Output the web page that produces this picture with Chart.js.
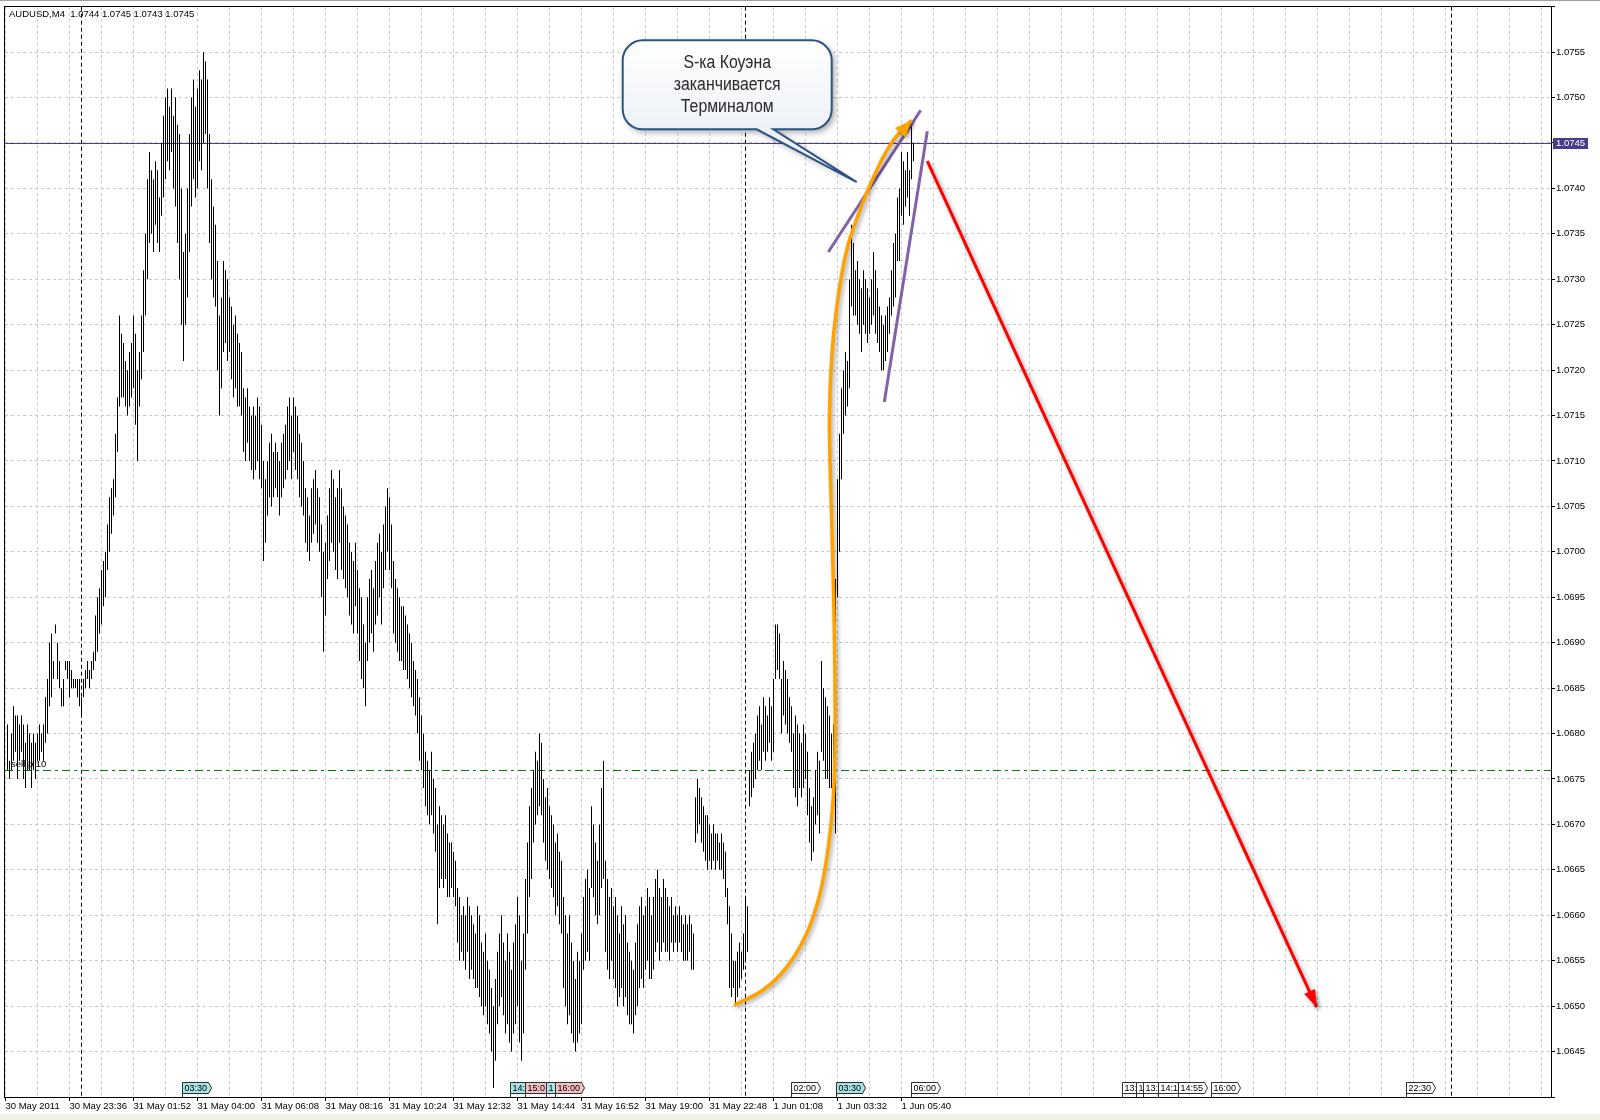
<!DOCTYPE html>
<html lang="ru">
<head>
<meta charset="utf-8">
<title>AUDUSD,M4</title>
<script src="https://cdn.jsdelivr.net/npm/chart.js@4.4.1/dist/chart.umd.min.js"></script>
<style>
  html, body { margin: 0; padding: 0; background: #ffffff; }
  canvas { display: block; }
</style>
</head>
<body>
<canvas id="audusdChart" width="1600" height="1120"></canvas>
<script>
const BASE_PRICE = 1.06;
const PIP = 0.0001;

// M4 bars, high / low in pips above 1.0600 (one value per bar)
const barHighs = [
    81, 77, 80, 83, 82, 82, 81, 82, 81, 79,
    81, 80, 79, 80, 79, 80, 81, 80, 81, 84,
    86, 90, 91, 88, 92, 90, 88, 85, 86, 88,
    88, 88, 87, 86, 86, 86, 86, 84, 86, 87,
    88, 87, 88, 89, 93, 95, 96, 98, 99, 100,
    103, 106, 107, 108, 113, 117, 126, 124, 123, 121,
    120, 122, 123, 126, 124, 120, 122, 126, 131, 135,
    141, 144, 142, 141, 143, 142, 139, 145, 148, 150,
    151, 149, 151, 148, 150, 147, 146, 140, 133, 135,
    140, 146, 150, 152, 149, 151, 153, 152, 155, 154,
    152, 146, 141, 138, 136, 132, 126, 128, 132, 131,
    130, 128, 127, 125, 126, 124, 123, 122, 118, 117,
    118, 116, 115, 116, 115, 117, 116, 114, 110, 108,
    110, 112, 113, 111, 112, 111, 110, 112, 113, 114,
    116, 117, 115, 117, 116, 115, 113, 112, 110, 107,
    106, 104, 107, 108, 109, 107, 106, 103, 100, 101,
    104, 107, 109, 108, 106, 107, 109, 107, 105, 104,
    103, 101, 100, 99, 101, 98, 96, 95, 92, 90,
    95, 97, 98, 96, 99, 101, 102, 100, 103, 105,
    107, 106, 103, 99, 97, 96, 95, 94, 94, 93,
    92, 91, 90, 88, 87, 86, 84, 82, 80, 78,
    77, 76, 78, 75, 74, 70, 72, 71, 70, 71,
    69, 68, 68, 67, 66, 63, 62, 60, 61, 60,
    62, 61, 60, 59, 58, 61, 60, 57, 56, 58,
    55, 54, 52, 50, 53, 56, 58, 60, 57, 55,
    58, 56, 54, 57, 59, 62, 60, 55, 58, 64,
    68, 72, 74, 76, 78, 77, 80, 79, 75, 73,
    74, 72, 71, 70, 68, 69, 67, 66, 62, 60,
    58, 60, 57, 55, 53, 56, 55, 58, 62, 64,
    65, 63, 72, 70, 68, 66, 70, 74, 77, 66,
    64, 62, 63, 61, 62, 60, 58, 61, 59, 60,
    57, 56, 55, 54, 57, 59, 61, 62, 60, 61,
    63, 62, 60, 62, 64, 65, 63, 62, 64, 63,
    62, 61, 62, 60, 61, 60, 61, 60, 59, 60,
    59, 60, 59, 58, 73, 75, 74, 73, 72, 71,
    71, 70, 69, 70, 69, 69, 68, 69, 68, 67,
    63, 61, 58, 55, 55, 56, 57, 56, 58, 62,
    61, 76, 78, 79, 80, 82, 83, 81, 84, 83,
    82, 84, 83, 86, 92, 92, 91, 86, 88, 87,
    86, 84, 83, 80, 82, 81, 80, 79, 81, 80,
    78, 74, 72, 73, 76, 78, 77, 88, 85, 84,
    83, 82, 80, 81, 97, 108, 113, 118, 120, 122,
    121, 130, 136, 134, 131, 132, 130, 129, 131, 130,
    129, 128, 130, 133, 131, 129, 127, 126, 125, 126,
    127, 128, 131, 134, 135, 139, 140, 144, 143, 142,
    144, 142, 147, 145
];
const barLows = [
    76, 75, 76, 77, 78, 75, 77, 78, 75, 74,
    76, 76, 74, 76, 75, 77, 77, 78, 77, 79,
    80, 83, 84, 86, 91, 86, 85, 83, 83, 87,
    86, 84, 85, 85, 85, 84, 83, 82, 84, 85,
    86, 85, 86, 87, 88, 89, 91, 92, 94, 95,
    98, 100, 102, 104, 106, 111, 116, 117, 117, 116,
    115, 116, 117, 118, 114, 110, 116, 119, 122, 126,
    130, 134, 135, 133, 136, 134, 133, 137, 139, 141,
    143, 142, 144, 140, 138, 134, 130, 125, 121, 125,
    128, 133, 138, 141, 139, 140, 143, 142, 145, 146,
    140, 134, 130, 128, 127, 120, 115, 118, 122, 123,
    121, 122, 119, 117, 118, 116, 116, 115, 111, 110,
    112, 110, 109, 108, 109, 110, 108, 107, 99, 101,
    104, 106, 105, 106, 107, 106, 104, 106, 107, 108,
    109, 110, 108, 111, 109, 108, 106, 105, 104, 101,
    100, 99, 101, 102, 103, 101, 100, 95, 89, 93,
    97, 99, 101, 100, 98, 97, 101, 98, 97, 96,
    95, 93, 92, 91, 94, 91, 88, 86, 85, 83,
    88, 90, 91, 89, 92, 93, 95, 92, 96, 98,
    100, 98, 96, 91, 90, 89, 88, 88, 87, 87,
    86, 85, 84, 83, 82, 80, 77, 76, 74, 72,
    71, 70, 71, 69, 67, 59, 63, 64, 63, 64,
    62, 62, 63, 62, 61, 57, 55, 56, 55, 54,
    56, 53, 54, 53, 52, 52, 51, 50, 49, 50,
    48, 47, 45, 41, 44, 48, 50, 51, 49, 47,
    48, 46, 45, 47, 48, 50, 46, 44, 47, 54,
    58, 62, 64, 68, 70, 71, 72, 71, 68, 66,
    65, 64, 63, 62, 60, 61, 59, 58, 52, 50,
    48, 49, 47, 46, 45, 46, 47, 48, 54, 55,
    56, 55, 63, 62, 60, 59, 60, 63, 64, 56,
    54, 53, 55, 53, 52, 50, 51, 52, 50, 51,
    49, 48, 48, 47, 49, 50, 52, 53, 52, 54,
    55, 53, 53, 54, 56, 57, 55, 56, 57, 56,
    56, 55, 57, 56, 57, 56, 57, 56, 55, 55,
    55, 56, 54, 54, 68, 69, 70, 68, 67, 66,
    65, 66, 65, 66, 65, 66, 65, 65, 64, 62,
    59, 52, 51, 52, 50, 51, 52, 53, 54, 55,
    56, 72, 73, 74, 75, 76, 77, 76, 78, 77,
    78, 79, 77, 78, 86, 87, 86, 80, 82, 81,
    80, 79, 78, 74, 73, 72, 74, 73, 74, 75,
    71, 68, 66, 67, 70, 71, 69, 78, 77, 75,
    75, 74, 74, 75, 69, 95, 100, 108, 113, 115,
    116, 118, 127, 126, 126, 125, 124, 122, 125, 124,
    123, 124, 125, 126, 124, 123, 122, 120, 120, 121,
    122, 124, 126, 127, 128, 132, 132, 137, 136, 138,
    139, 137, 141, 143
];

const timeLabels = ['30 May 2011', '30 May 23:36', '31 May 01:52', '31 May 04:00', '31 May 06:08',
    '31 May 08:16', '31 May 10:24', '31 May 12:32', '31 May 14:44', '31 May 16:52',
    '31 May 19:00', '31 May 22:48', '1 Jun 01:08', '1 Jun 03:32', '1 Jun 05:40'];
const priceTicks = [1.0640, 1.0645, 1.0650, 1.0655, 1.0660, 1.0665, 1.0670, 1.0675, 1.0680,
    1.0685, 1.0690, 1.0695, 1.0700, 1.0705, 1.0710, 1.0715, 1.0720, 1.0725, 1.0730,
    1.0735, 1.0740, 1.0745, 1.0750, 1.0755, 1.0760];

const headerText = 'AUDUSD,M4  1.0744 1.0745 1.0743 1.0745';
const currentPrice = 1.0745;
const orderPrice = 1.0676;
const orderText = 'sell p 10';
const daySeparatorBars = [36.5, 368.5, 721.5];

// calendar event flags on the time axis (bar position, text, colour kind)
const eventBars = [87, 251, 258.5, 269, 273.5, 391.5, 414, 451.5, 557, 564, 567.5, 575, 585, 601.5, 699];
const eventTexts = ['03:30', '14:', '15:0', '1', '16:00', '02:00', '03:30', '06:00', '13:1', '1', '13:', '14:1', '14:55', '16:00', '22:30'];
const eventKinds = ['cyan', 'cyan', 'pink', 'cyan', 'pink', 'white', 'cyan', 'white', 'white', 'white', 'white', 'white', 'white', 'white', 'white'];

// drawn objects, in bar index / price units
const sCurveBars = [363.25, 377.9, 389.6, 399.6, 406.25, 410.4, 412.9, 413.75, 413.75, 412.9,
    411.8, 411.0, 412.1, 414.6, 419.6, 426.25, 434.6, 442.9, 452.1];
const sCurvePrices = [1.06501, 1.06518, 1.06543, 1.06580, 1.06624, 1.06675, 1.06730, 1.06785, 1.06859, 1.06969,
    1.07057, 1.07145, 1.07214, 1.07269, 1.07332, 1.07376, 1.07420, 1.07453, 1.07475];
const wedgeUpperBars = [410.4, 456.6];
const wedgeUpperPrices = [1.07330, 1.07486];
const wedgeLowerBars = [438.4, 459.9];
const wedgeLowerPrices = [1.07165, 1.07463];
const targetBars = [459.9, 654.6];
const targetPrices = [1.07430, 1.06499];

const calloutLines = ['S-ка Коуэна', 'заканчивается', 'Терминалом'];
const calloutBars = [307.6, 412.1];        // left, right
const calloutPrices = [1.07563, 1.07465];  // top, bottom
const calloutTailBars = [374.6, 382.9, 424.6];
const calloutTipPrice = 1.07407;

const UI_FONT = '"Liberation Sans", Arial, sans-serif';

function arrowHead(ctx, from, to, len, half) {
    const a = Math.atan2(to.y - from.y, to.x - from.x);
    const bx = to.x - len * Math.cos(a);
    const by = to.y - len * Math.sin(a);
    ctx.beginPath();
    ctx.moveTo(to.x, to.y);
    ctx.lineTo(bx + half * Math.sin(a), by - half * Math.cos(a));
    ctx.lineTo(bx - half * Math.sin(a), by + half * Math.cos(a));
    ctx.closePath();
    ctx.fill();
}

function setShadow(ctx, blur, off) {
    ctx.shadowColor = 'rgba(0, 0, 0, 0.35)';
    ctx.shadowBlur = blur;
    ctx.shadowOffsetX = off;
    ctx.shadowOffsetY = off;
}

const mt4Decor = {
    id: 'mt4Decor',
    beforeDraw(chart) {
        const { ctx, width, height } = chart;
        ctx.save();
        ctx.fillStyle = '#ffffff';
        ctx.fillRect(0, 0, width, height);
        ctx.fillStyle = '#f1f1e6';
        ctx.fillRect(0, 1114, width, height - 1114);
        ctx.fillStyle = '#a0a0a0';
        ctx.fillRect(0, 0, width, 1);
        ctx.restore();
    },
    beforeDatasetsDraw(chart) {
        const { ctx, chartArea: a, scales: { x, y } } = chart;
        ctx.save();
        // day separators
        ctx.strokeStyle = '#000';
        ctx.lineWidth = 1;
        ctx.setLineDash([4, 3]);
        daySeparatorBars.forEach((b) => {
            const px = Math.round(x.getPixelForValue(b)) + 0.5;
            ctx.beginPath();
            ctx.moveTo(px, a.top);
            ctx.lineTo(px, a.bottom);
            ctx.stroke();
        });
        // pending order line
        const oy = Math.round(y.getPixelForValue(orderPrice)) + 0.5;
        ctx.strokeStyle = '#008000';
        ctx.setLineDash([8, 4, 3, 4]);
        ctx.beginPath();
        ctx.moveTo(a.left, oy);
        ctx.lineTo(a.right, oy);
        ctx.stroke();
        ctx.setLineDash([]);
        ctx.fillStyle = '#000';
        ctx.font = '9.5px ' + UI_FONT;
        ctx.textBaseline = 'bottom';
        ctx.fillText(orderText, a.left + 6, oy - 1);
        // current price line
        const py = Math.round(y.getPixelForValue(currentPrice)) + 0.5;
        ctx.strokeStyle = '#483d8b';
        ctx.beginPath();
        ctx.moveTo(a.left, py);
        ctx.lineTo(a.right, py);
        ctx.stroke();
        ctx.restore();
    },
    beforeDatasetDraw(chart, args) {
        const ds = chart.data.datasets[args.index];
        if (ds.dropShadow) {
            chart.ctx.save();
            setShadow(chart.ctx, 4, 2);
        }
    },
    afterDatasetDraw(chart, args) {
        if (chart.data.datasets[args.index].dropShadow) chart.ctx.restore();
    },
    afterDatasetsDraw(chart) {
        const { ctx, chartArea: a, scales: { x, y } } = chart;

        // arrow heads
        ctx.save();
        setShadow(ctx, 4, 2);
        const sPts = chart.getDatasetMeta(0).data;
        ctx.fillStyle = '#ffa200';
        arrowHead(ctx, sPts[sPts.length - 2], sPts[sPts.length - 1], 17, 7);
        const tPts = chart.getDatasetMeta(3).data;
        ctx.fillStyle = '#ff0000';
        arrowHead(ctx, tPts[0], tPts[1], 17, 6);
        ctx.restore();

        // event flags
        ctx.save();
        ctx.font = '9px ' + UI_FONT;
        ctx.textBaseline = 'middle';
        ctx.lineWidth = 1;
        const fills = { cyan: '#a6e3e3', pink: '#f6bcc4', white: '#ffffff' };
        eventBars.forEach((b, i) => {
            const px = Math.round(x.getPixelForValue(b)) + 0.5;
            const w = Math.ceil(ctx.measureText(eventTexts[i]).width) + 3;
            const top = a.bottom - 14.5;
            const h = 11;
            ctx.beginPath();
            ctx.moveTo(px, top);
            ctx.lineTo(px + w, top);
            ctx.lineTo(px + w + 3, top + h / 2);
            ctx.lineTo(px + w, top + h);
            ctx.lineTo(px, top + h);
            ctx.closePath();
            ctx.fillStyle = fills[eventKinds[i]];
            ctx.fill();
            ctx.strokeStyle = '#303030';
            ctx.stroke();
            ctx.beginPath();
            ctx.moveTo(px, top + h);
            ctx.lineTo(px, a.bottom);
            ctx.stroke();
            ctx.fillStyle = '#000';
            ctx.fillText(eventTexts[i], px + 2, top + h / 2 + 0.5);
        });
        ctx.restore();

        // callout bubble
        const x1 = x.getPixelForValue(calloutBars[0]);
        const x2 = x.getPixelForValue(calloutBars[1]);
        const y1 = y.getPixelForValue(calloutPrices[0]);
        const y2 = y.getPixelForValue(calloutPrices[1]);
        const t1 = x.getPixelForValue(calloutTailBars[0]);
        const t2 = x.getPixelForValue(calloutTailBars[1]);
        const tx = x.getPixelForValue(calloutTailBars[2]);
        const ty = y.getPixelForValue(calloutTipPrice);
        const r = 20;
        ctx.save();
        ctx.beginPath();
        ctx.moveTo(x1 + r, y1);
        ctx.lineTo(x2 - r, y1);
        ctx.arcTo(x2, y1, x2, y1 + r, r);
        ctx.lineTo(x2, y2 - r);
        ctx.arcTo(x2, y2, x2 - r, y2, r);
        ctx.lineTo(t2, y2);
        ctx.lineTo(tx, ty);
        ctx.lineTo(t1, y2);
        ctx.lineTo(x1 + r, y2);
        ctx.arcTo(x1, y2, x1, y2 - r, r);
        ctx.lineTo(x1, y1 + r);
        ctx.arcTo(x1, y1, x1 + r, y1, r);
        ctx.closePath();
        const grad = ctx.createLinearGradient(0, y1, 0, y2);
        grad.addColorStop(0, '#ffffff');
        grad.addColorStop(1, '#edf1f7');
        ctx.fillStyle = grad;
        setShadow(ctx, 6, 3);
        ctx.fill();
        ctx.shadowColor = 'rgba(0,0,0,0)';
        ctx.strokeStyle = '#2b5482';
        ctx.lineWidth = 2;
        ctx.stroke();
        ctx.fillStyle = '#2a2a2a';
        ctx.font = '18px "Liberation Sans Narrow", "Arial Narrow", ' + UI_FONT;
        ctx.textAlign = 'center';
        ctx.textBaseline = 'middle';
        const cx = (x1 + x2) / 2;
        calloutLines.forEach((line, i) => {
            ctx.save();
            ctx.translate(cx, y1 + 23 + i * 22);
            ctx.scale(0.88, 1);
            ctx.fillText(line, 0, 0);
            ctx.restore();
        });
        ctx.restore();
    },
    afterDraw(chart) {
        const { ctx, chartArea: a, scales: { y } } = chart;
        ctx.save();
        // frame
        ctx.strokeStyle = '#000';
        ctx.lineWidth = 1;
        ctx.strokeRect(Math.round(a.left) - 0.5, Math.round(a.top) - 0.5,
            Math.round(a.right - a.left) + 1, Math.round(a.bottom - a.top) + 1);
        // header
        ctx.fillStyle = '#000';
        ctx.font = '9.5px ' + UI_FONT;
        ctx.textBaseline = 'middle';
        ctx.fillText(headerText, a.left + 4, a.top + 8);
        // current price box on the axis
        const py = Math.round(y.getPixelForValue(currentPrice));
        ctx.fillStyle = '#483d8b';
        ctx.fillRect(a.right + 2, py - 5, 35, 11);
        ctx.fillStyle = '#ffffff';
        ctx.fillText(currentPrice.toFixed(4), a.right + 5, py + 0.5);
        ctx.restore();
    }
};

document.addEventListener('DOMContentLoaded', () => {
    const ctx = document.getElementById('audusdChart').getContext('2d');

    const toPoints = (xs, ys) => xs.map((v, i) => ({ x: v, y: ys[i] }));
    const barPoints = barHighs.map((h, i) => ({
        x: i,
        y: [BASE_PRICE + barLows[i] * PIP, BASE_PRICE + h * PIP]
    }));

    const gridBars = [];
    for (let k = 0; k <= 48; k++) gridBars.push(-1 + 16 * k);

    const hasLabel = (i) => i % 2 === 0 && i / 2 < timeLabels.length;

    new Chart(ctx, {
        type: 'bar',
        data: {
            datasets: [
                {
                    type: 'line', data: toPoints(sCurveBars, sCurvePrices),
                    borderColor: '#ffa200', borderWidth: 3.5, tension: 0.4,
                    pointRadius: 0, fill: false, order: 1, dropShadow: true
                },
                {
                    type: 'line', data: toPoints(wedgeUpperBars, wedgeUpperPrices),
                    borderColor: '#8062a8', borderWidth: 3, pointRadius: 0, fill: false, order: 2
                },
                {
                    type: 'line', data: toPoints(wedgeLowerBars, wedgeLowerPrices),
                    borderColor: '#8062a8', borderWidth: 3, pointRadius: 0, fill: false, order: 2
                },
                {
                    type: 'line', data: toPoints(targetBars, targetPrices),
                    borderColor: '#ff0000', borderWidth: 3, pointRadius: 0, fill: false, order: 1,
                    dropShadow: true
                },
                {
                    type: 'bar', data: barPoints, backgroundColor: '#000000',
                    barThickness: 1, borderWidth: 0, inflateAmount: 0, grouped: false, order: 10
                }
            ]
        },
        options: {
            responsive: false,
            animation: false,
            devicePixelRatio: 1,
            layout: { padding: { left: 5, top: 6, right: 0, bottom: 0 } },
            plugins: {
                legend: { display: false },
                tooltip: { enabled: false }
            },
            scales: {
                x: {
                    type: 'linear',
                    min: -1.25,
                    max: 771.75,
                    offset: false,
                    afterBuildTicks: (scale) => { scale.ticks = gridBars.map((v) => ({ value: v })); },
                    afterFit: (scale) => { scale.height = 23; },
                    grid: {
                        offset: false,
                        color: '#c8c8c8',
                        lineWidth: 1,
                        tickLength: 4,
                        tickColor: (c) => hasLabel(c.index) ? '#000' : 'rgba(0,0,0,0)',
                        tickBorderDash: []
                    },
                    border: { display: false, dash: [3, 3] },
                    ticks: {
                        autoSkip: false,
                        maxRotation: 0,
                        minRotation: 0,
                        align: 'start',
                        padding: 0,
                        color: '#000',
                        font: { family: UI_FONT, size: 9.5 },
                        callback: (v, i) => hasLabel(i) ? timeLabels[i / 2] : ''
                    }
                },
                y: {
                    type: 'linear',
                    position: 'right',
                    min: 1.0640,
                    max: 1.0760,
                    afterBuildTicks: (scale) => { scale.ticks = priceTicks.map((v) => ({ value: v })); },
                    afterFit: (scale) => { scale.width = 49; },
                    grid: {
                        color: '#c8c8c8',
                        lineWidth: 1,
                        tickLength: 4,
                        tickColor: '#000',
                        tickBorderDash: []
                    },
                    border: { display: false, dash: [3, 3] },
                    ticks: {
                        padding: 1,
                        color: '#000',
                        font: { family: UI_FONT, size: 9.5 },
                        callback: (v) => (v <= 1.0640 || v >= 1.0760) ? '' : v.toFixed(4)
                    }
                }
            }
        },
        plugins: [mt4Decor]
    });
});
</script>
</body>
</html>
